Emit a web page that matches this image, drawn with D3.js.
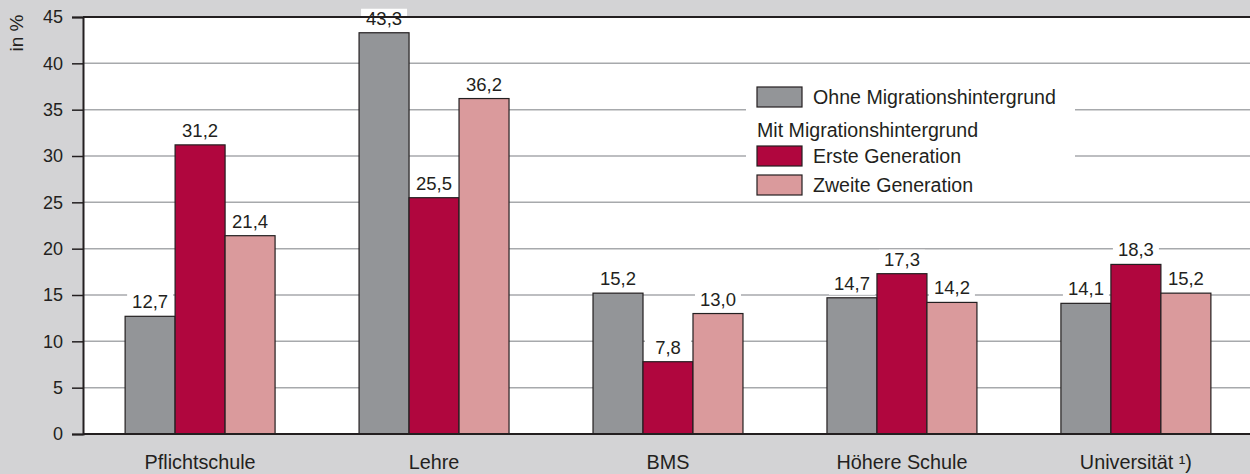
<!DOCTYPE html>
<html>
<head>
<meta charset="utf-8">
<script src="https://cdn.jsdelivr.net/npm/d3@7/dist/d3.min.js"></script>
<style>
  html, body { margin: 0; padding: 0; background: #d3d3d5; }
  svg { display: block; font-family: "Liberation Sans", Arial, Helvetica, sans-serif; }
</style>
</head>
<body>
<svg id="chart" width="1250" height="474"></svg>
<script>
// Education level categories
const categories = ["Pflichtschule", "Lehre", "BMS", "Höhere Schule", "Universität ¹)"];
// Share in % per group
const ohneMigration = [12.7, 43.3, 15.2, 14.7, 14.1];
const ersteGeneration = [31.2, 25.5, 7.8, 17.3, 18.3];
const zweiteGeneration = [21.4, 36.2, 13.0, 14.2, 15.2];
const seriesNames = ["Ohne Migrationshintergrund", "Erste Generation", "Zweite Generation"];
const seriesColors = ["#939598", "#b0063e", "#da9a9c"];
const yTicks = [0, 5, 10, 15, 20, 25, 30, 35, 40, 45];

const series = [ohneMigration, ersteGeneration, zweiteGeneration];
const svg = d3.select("#chart");
const W = 1250, H = 474;
const plot = { left: 83, top: 17, right: 1253, bottom: 434 };
const ink = "#231f20";
const fmt = v => v.toFixed(1).replace(".", ",");

const x = d3.scaleBand().domain(categories).range([plot.left, plot.right])
  .paddingInner(0.359).paddingOuter(0.18);
const xs = d3.scaleBand().domain(d3.range(series.length)).range([0, x.bandwidth()]);
const y = d3.scaleLinear().domain([0, 45]).range([plot.bottom, plot.top]);

// plot background
svg.append("rect").attr("x", plot.left).attr("y", plot.top)
  .attr("width", W - plot.left).attr("height", plot.bottom - plot.top).attr("fill", "#fff");

// gridlines
svg.append("g").selectAll("line").data(yTicks.filter(t => t > 0 && t < 45)).join("line")
  .attr("x1", plot.left).attr("x2", W).attr("y1", d => y(d)).attr("y2", d => y(d))
  .attr("stroke", "#a7a9ac").attr("stroke-width", 1.5);

// legend background covering grid
const lg = svg.append("g");
lg.append("rect").attr("x", 746).attr("y", 72).attr("width", 329).attr("height", 126).attr("fill", "#fff");

// bars
const groups = svg.append("g").selectAll("g").data(categories).join("g")
  .attr("transform", d => `translate(${x(d)},0)`);
const cells = (d, i) => series.map((s, k) => ({ k, v: s[i] }));
groups.selectAll("rect").data(cells).join("rect")
  .attr("x", d => xs(d.k)).attr("width", xs.bandwidth())
  .attr("y", d => y(d.v)).attr("height", d => y(0) - y(d.v))
  .attr("fill", d => seriesColors[d.k]).attr("stroke", ink).attr("stroke-width", 1.2);

// value labels with white backing
const lbl = groups.selectAll("g.lbl").data(cells).join("g").attr("class", "lbl");
lbl.append("rect")
  .attr("x", d => xs(d.k) + 2).attr("width", xs.bandwidth() - 4)
  .attr("y", d => y(d.v) - 24).attr("height", 21).attr("fill", "#fff");
lbl.append("text")
  .attr("x", d => xs(d.k) + xs.bandwidth() / 2).attr("y", d => y(d.v) - 8)
  .attr("text-anchor", "middle").attr("font-size", 18.5).attr("fill", ink)
  .text(d => fmt(d.v));

// axes frame: top and bottom
svg.append("line").attr("x1", plot.left).attr("x2", W).attr("y1", plot.top).attr("y2", plot.top)
  .attr("stroke", ink).attr("stroke-width", 2);
svg.append("line").attr("x1", plot.left).attr("x2", W).attr("y1", plot.bottom).attr("y2", plot.bottom)
  .attr("stroke", ink).attr("stroke-width", 2);

const yAxis = d3.axisLeft(y).tickValues(yTicks).tickSize(11).tickPadding(9).tickFormat(d3.format("d"));
const ya = svg.append("g").attr("transform", `translate(${plot.left},0)`).call(yAxis);
ya.select(".domain").attr("stroke", ink).attr("stroke-width", 2);
ya.selectAll(".tick line").attr("stroke", ink).attr("stroke-width", 1.5);
ya.selectAll(".tick text").attr("font-size", 18).attr("fill", ink)
  .attr("font-family", "Liberation Sans, Arial, sans-serif");

const xAxis = d3.axisBottom(x).tickSize(0);
const xa = svg.append("g").attr("transform", `translate(0,${plot.bottom})`).call(xAxis);
xa.select(".domain").remove();
xa.selectAll(".tick text").attr("font-size", 19.8).attr("fill", ink)
  .attr("y", 35).attr("dy", 0)
  .attr("font-family", "Liberation Sans, Arial, sans-serif");

// y axis title
svg.append("text").attr("transform", "translate(23,33) rotate(-90)")
  .attr("text-anchor", "middle").attr("font-size", 19).attr("fill", ink).text("in %");

// legend
const legendItems = [
  { t: seriesNames[0], c: seriesColors[0], y: 97, sw: true },
  { t: "Mit Migrationshintergrund", y: 130, sw: false },
  { t: seriesNames[1], c: seriesColors[1], y: 156, sw: true },
  { t: seriesNames[2], c: seriesColors[2], y: 185, sw: true }
];
legendItems.forEach(it => {
  if (it.sw) {
    lg.append("rect").attr("x", 757).attr("y", it.y - 10).attr("width", 45).attr("height", 20)
      .attr("fill", it.c).attr("stroke", ink).attr("stroke-width", 1.2);
  }
  lg.append("text").attr("x", it.sw ? 813 : 757).attr("y", it.y + 7)
    .attr("font-size", 19.6).attr("fill", ink).text(it.t);
});
</script>
</body>
</html>
